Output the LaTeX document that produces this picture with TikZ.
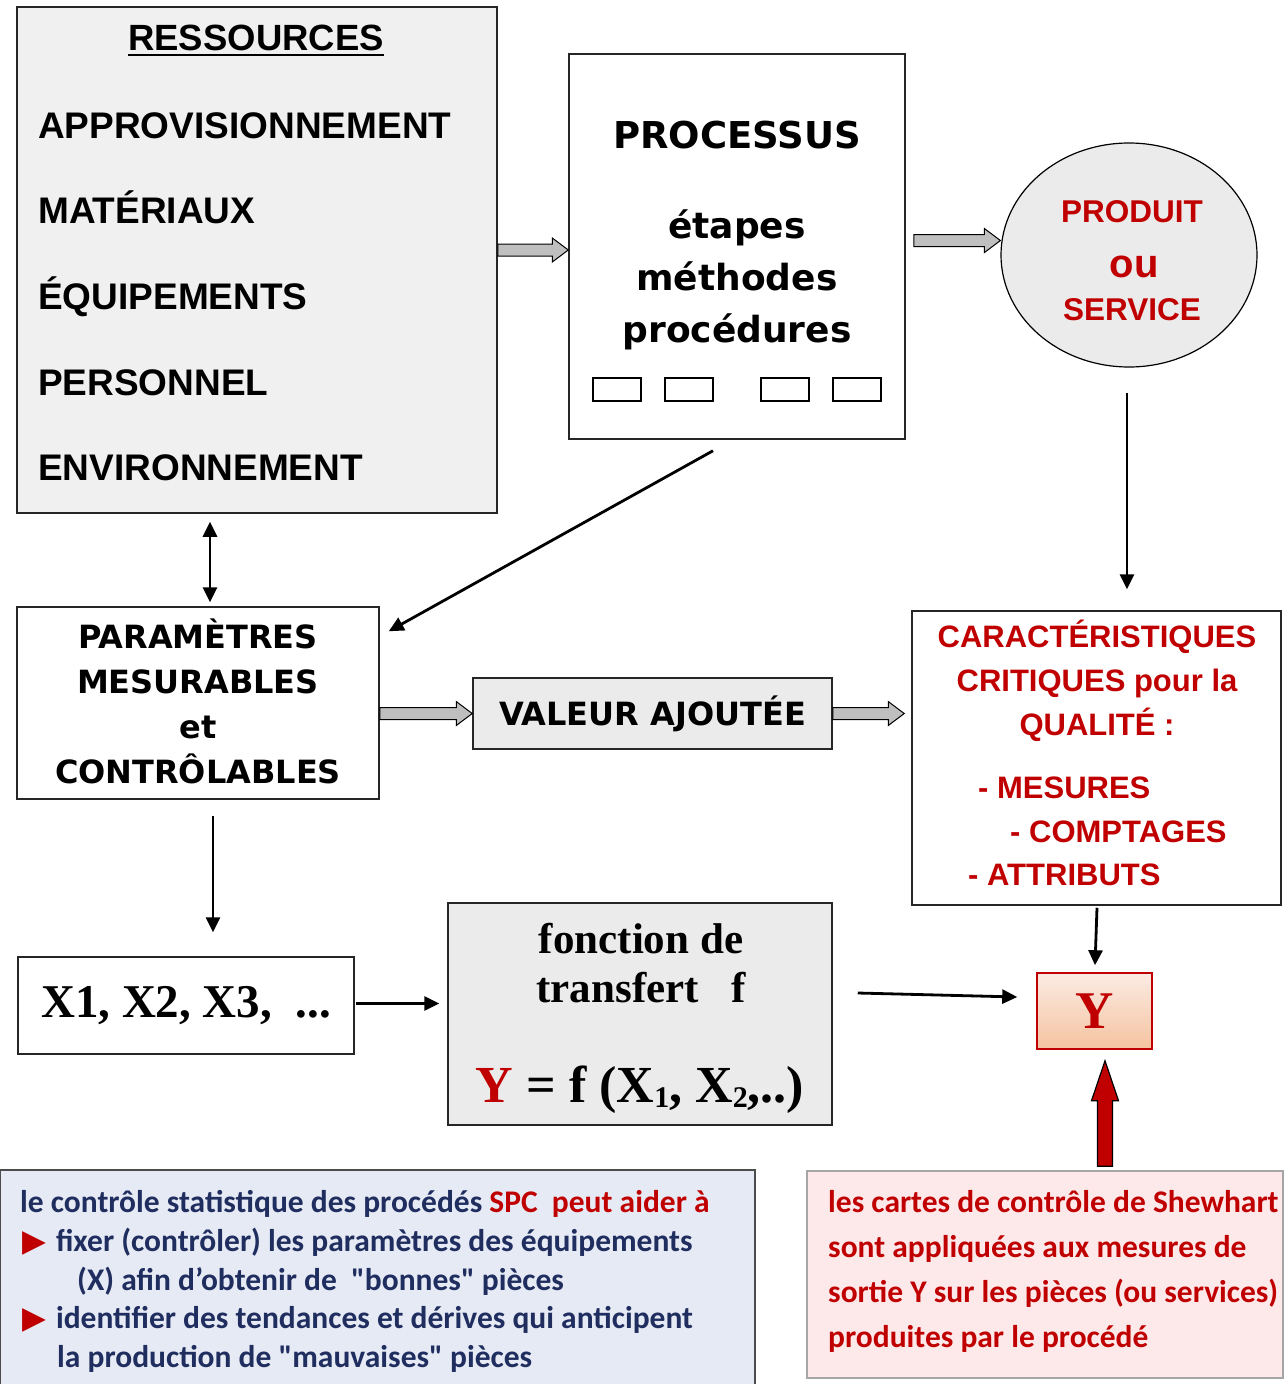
\documentclass[tikz,border=0pt]{standalone}
\usepackage{fontspec}
\setmainfont{Liberation Sans}
\newfontfamily\vfont{DejaVu Sans}
\newfontfamily\tfont{Liberation Serif}
\newfontfamily\cfont{Carlito}
\newfontfamily\symfont{DejaVu Sans}
\usepackage{tikz}
\usetikzlibrary{arrows.meta,positioning,shapes.geometric,calc}
\newcommand\fsz[2]{\fontsize{#1}{#2}\selectfont}
\newcommand\lowsub[1]{\raisebox{-5pt}{\fsz{30}{30}#1}}
\newcommand\spctri{{\color{spcred}\symfont\fsz{31}{39}▶}}
\definecolor{resfill}{HTML}{F0F0F0}
\definecolor{valfill}{HTML}{EBEBEB}
\definecolor{arrgray}{HTML}{BFBFBF}
\definecolor{spcred}{HTML}{C00000}
\definecolor{spcnavy}{HTML}{1F2D5F}
\definecolor{spcblue}{HTML}{E6EAF5}
\definecolor{shewpink}{HTML}{FDE8EA}
\definecolor{ytop}{HTML}{FBEBE3}
\definecolor{ybot}{HTML}{F5C3A0}
% fat block arrows, horizontal and upward
\newcommand\fatarrow[3]{%
  \path[#1] let \p1=(#2), \p2=(#3) in
    (\x1,\y1+6pt) -- (\x2-16pt,\y1+6pt) -- (\x2-16pt,\y1+12pt) -- (\x2,\y1)
    -- (\x2-16pt,\y1-12pt) -- (\x2-16pt,\y1-6pt) -- (\x1,\y1-6pt) -- cycle;}
\newcommand\upfatarrow[3]{%
  \path[#1] let \p1=(#2), \p2=(#3) in
    (\x2-7.5pt,\y1) -- (\x2-7.5pt,\y2-40pt) -- (\x2-13.5pt,\y2-40pt) -- (\x2,\y2)
    -- (\x2+13.5pt,\y2-40pt) -- (\x2+7.5pt,\y2-40pt) -- (\x2+7.5pt,\y1) -- cycle;}
\tikzset{
  panel/.style={draw=black!85, line width=1.5pt, inner sep=0pt},
  cell/.style={draw, line width=1.2pt, fill=white, minimum width=48pt,
               minimum height=23pt, inner sep=0pt},
  txt/.style={inner sep=0pt, anchor=base},
  item/.style={txt, anchor=base west, font=\fsz{37}{44}\bfseries},
  redtxt/.style={txt, text=spcred, font=\fsz{31}{44}\bfseries},
  fat/.style={draw=black, line width=1pt, fill=arrgray},
  link/.style={-{Triangle[length=15pt,width=14pt]}, line width=2.8pt},
  spcline/.style={txt, anchor=base west, text=spcnavy,
                  font=\cfont\bfseries\fsz{31.5}{39}},
}
\begin{document}
\begin{tikzpicture}[x=1pt,y=-1pt]
  \useasboundingbox (0,0) rectangle (1283,1384);
  % resources
  \node[panel, fill=resfill, minimum width=480pt, minimum height=506pt]
    (res) at (257,260) {};
  \node[txt, font=\fsz{36.5}{44}\bfseries] (restitle) at (256,50) {RESSOURCES};
  \draw[line width=2.6pt] ([yshift=-5pt]restitle.base west)
    -- ([yshift=-5pt]restitle.base east);
  \node[item] (appro) at (38,138) {APPROVISIONNEMENT};
  \node[item] (mat) at (38,223) {MATÉRIAUX};
  \node[item] (equip) at (38,309) {ÉQUIPEMENTS};
  \node[item] (pers) at (38,395) {PERSONNEL};
  \node[item] (envir) at (38,480) {ENVIRONNEMENT};
  % process
  \node[panel, fill=white, minimum width=336pt, minimum height=385pt]
    (proc) at (737,246.5) {};
  \node[txt, font=\vfont\bfseries\fsz{37}{44}] (proctitle) at (737,148)
    {PROCESSUS};
  \node[txt, align=center, font=\vfont\bfseries\fsz{36}{52}] (steps)
    at (737,342) {étapes\\méthodes\\procédures};
  \node[cell] (c1) at (617,389.5) {};
  \node[cell] (c2) at (689,389.5) {};
  \node[cell] (c3) at (785,389.5) {};
  \node[cell] (c4) at (857,389.5) {};
  % product
  \node[ellipse, draw, line width=1.2pt, fill=valfill, minimum width=256pt,
        minimum height=224pt, inner sep=0pt] (prod) at (1129,255) {};
  \node[redtxt, font=\fsz{31.5}{44}\bfseries] (prod1) at (1132,222) {PRODUIT};
  \node[redtxt, font=\fsz{40}{44}\bfseries] (prod2) at (1134,277) {ou};
  \node[redtxt, font=\fsz{31.5}{44}\bfseries] (prod3) at (1132,320) {SERVICE};
  % parameters
  \node[panel, fill=white, minimum width=362pt, minimum height=192pt]
    (par) at (198,703) {};
  \node[txt, align=center, font=\vfont\bfseries\fsz{32}{45}] (partxt)
    at (198,783) {PARAMÈTRES\\MESURABLES\\et\\CONTRÔLABLES};
  \node[panel, fill=valfill, minimum width=359pt, minimum height=71pt,
        font=\vfont\bfseries\fsz{32}{40}] (val) at (652.5,713.5)
    {VALEUR AJOUTÉE};
  % quality characteristics
  \node[panel, fill=white, minimum width=369pt, minimum height=294pt]
    (car) at (1096.5,758) {};
  \node[redtxt, align=center] (cartxt) at (1097,735)
    {CARACTÉRISTIQUES\\CRITIQUES pour la\\QUALITÉ :};
  \node[redtxt, anchor=base west] (mes) at (978,798) {- MESURES};
  \node[redtxt, anchor=base west] (cpt) at (1010,842) {- COMPTAGES};
  \node[redtxt, anchor=base west] (att) at (968,885) {- ATTRIBUTS};
  % variables and transfer function
  \node[panel, fill=white, minimum width=336pt, minimum height=97pt,
        font=\tfont\bfseries\fsz{47}{50}] (xs) at (186,1005.5)
    {X1, X2, X3,\ \ ...};
  \node[panel, fill=valfill, minimum width=384pt, minimum height=222pt]
    (fn) at (640,1014) {};
  \node[txt, align=center, font=\tfont\bfseries\fsz{43}{49}] (fntxt)
    at (641,1002) {fonction de\\transfert\ \ \ f};
  \node[txt, font=\tfont\bfseries\fsz{52}{56}] (fneq) at (640,1102)
    {{\color{spcred}Y} = f (X\lowsub{1}, X\lowsub{2},..)};
  \node[draw=spcred, line width=1.5pt, top color=ytop, bottom color=ybot,
        minimum width=115pt, minimum height=76pt, inner sep=0pt,
        text=spcred, font=\tfont\bfseries\fsz{53}{56}] (yb) at (1094.5,1011)
    {Y};
  % notes
  \node[draw=black!70, line width=1.5pt, fill=spcblue, minimum width=755pt,
        minimum height=220pt, inner sep=0pt] (spc) at (377.5,1280) {};
  \node[spcline] (spc1) at (20,1212)
    {le contrôle statistique des procédés {\color{spcred}SPC\ \ peut aider à}};
  \node[spcline] (spc2) at (22,1251)
    {\spctri\hspace{10pt}fixer (contrôler) les paramètres des équipements};
  \node[spcline] (spc3) at (77,1290) {(X) afin d’obtenir de\ \ "bonnes" pièces};
  \node[spcline] (spc4) at (22,1328)
    {\spctri\hspace{10pt}identifier des tendances et dérives qui anticipent};
  \node[spcline] (spc5) at (57,1367) {la production de "mauvaises" pièces};
  \node[draw=black!35, line width=1.5pt, fill=shewpink, minimum width=476pt,
        minimum height=207pt, inner sep=0pt] (shew) at (1045,1274.5) {};
  \node[txt, anchor=base west, align=left, text=spcred,
        font=\cfont\bfseries\fsz{31.5}{45}] (shewtxt) at (828,1347)
    {les cartes de contrôle de Shewhart\\sont appliquées aux mesures de\\
     sortie Y sur les pièces (ou services)\\produites par le procédé};
  % block arrows
  \fatarrow{fat}{[yshift=-3.5pt]res.east |- proc.west}{proc.west}
  \fatarrow{fat}{[xshift=8pt,yshift=6pt]proc.east}{prod.west}
  \fatarrow{fat}{par.east |- val.west}{val.west}
  \fatarrow{fat}{val.east}{[xshift=-7pt]car.west}
  \upfatarrow{draw=black, line width=1.2pt, fill=spcred}
    {[xshift=60pt,yshift=4pt]shew.north}{[xshift=10.5pt,yshift=-11pt]yb.south}
  % plain arrows
  \draw[line width=2.8pt, {Triangle[length=15pt,width=14pt]}-{Triangle[length=15pt,width=14pt]}]
    ([xshift=-47pt,yshift=-8pt]res.south) -- ([xshift=12pt,yshift=4pt]par.north);
  \draw[link] ([xshift=-24pt,yshift=-11pt]proc.south)
    -- ([xshift=9pt,yshift=-25pt]par.north east);
  \draw[link] ([xshift=-2pt,yshift=-25pt]prod.south)
    -- ([xshift=-2pt,yshift=21pt]prod.south |- car.north);
  \draw[link] ([xshift=15pt,yshift=-16pt]par.south)
    -- ([xshift=27pt,yshift=24pt]xs.north);
  \draw[link] ([xshift=1pt,yshift=2pt]xs.east)
    -- ([xshift=-8pt,yshift=2pt]xs.east -| fn.west);
  \draw[link] ([xshift=25pt,yshift=21pt]fn.east)
    -- ([xshift=-19pt,yshift=14pt]yb.west);
  \draw[link] ([xshift=0.5pt,yshift=-2pt]car.south)
    -- ([xshift=0.5pt,yshift=7pt]yb.north);
\end{tikzpicture}
\end{document}
